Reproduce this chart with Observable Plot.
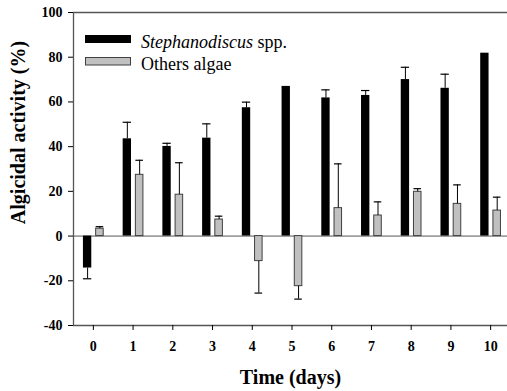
<!DOCTYPE html>
<html>
<head>
<meta charset="utf-8">
<script src="https://cdn.jsdelivr.net/npm/d3@7"></script>
<script src="https://cdn.jsdelivr.net/npm/@observablehq/plot@0.6"></script>
<style>
  html, body { margin: 0; padding: 0; background: white; }
  #chart { position: relative; width: 507px; height: 391px; }
</style>
</head>
<body>
<div id="chart"></div>
<script>
const days = [0, 1, 2, 3, 4, 5, 6, 7, 8, 9, 10];
const stephanodiscus = [-14.3, 43.5, 40.1, 43.8, 57.4, 66.6, 61.8, 62.9, 70.0, 66.1, 81.8];
const stephanodiscusErr = [4.8, 7.4, 1.4, 6.4, 2.5, 0.3, 3.6, 2.2, 5.5, 6.3, 0];
const othersAlgae = [3.3, 27.4, 18.5, 7.4, -11.2, -22.4, 12.5, 9.2, 19.8, 14.4, 11.4];
const othersAlgaeErr = [0.9, 6.5, 14.3, 1.5, 14.3, 5.8, 19.8, 6.1, 1.4, 8.5, 6.0];
const yTicks = [-40, -20, 0, 20, 40, 60, 80, 100];
const seriesNames = ["Stephanodiscus", " spp.", "Others algae"];

// offsets of the two bars within each day band (in day units)
const series = [
  {name: "steph", vals: stephanodiscus, errs: stephanodiscusErr, a: -0.25, b: -0.04, fill: "#000000", stroke: "none"},
  {name: "others", vals: othersAlgae, errs: othersAlgaeErr, a: 0.07, b: 0.26, fill: "#c0c0c0", stroke: "#404040"}
];
const rows = [];
for (const s of series) {
  days.forEach((d, i) => rows.push({day: d, v: s.vals[i], e: s.errs[i], a: s.a, b: s.b, fill: s.fill, stroke: s.stroke}));
}
const errRows = rows.filter(r => r.e > 0);
const tip = r => r.v + Math.sign(r.v) * r.e;

const font = "'Liberation Serif', 'Times New Roman', serif";
const axisColor = "#555555";

const plot = Plot.plot({
  width: 507,
  height: 391,
  marginTop: 12,
  marginBottom: 66,
  marginLeft: 73,
  marginRight: 0,
  style: {fontFamily: font, background: "white", color: "black"},
  x: {type: "linear", domain: [-0.5, 10.5], range: [73, 510]},
  y: {domain: [-40, 100]},
  marks: [
    Plot.ruleY([0], {stroke: axisColor, strokeWidth: 1}),
    Plot.rect(rows, {
      x1: r => r.day + r.a, x2: r => r.day + r.b,
      y1: 0, y2: "v",
      fill: "fill", stroke: "stroke", strokeWidth: 1
    }),
    Plot.ruleX(errRows, {
      x: r => r.day + (r.a + r.b) / 2,
      y1: "v", y2: tip, stroke: "black", strokeWidth: 1
    }),
    Plot.ruleY(errRows, {
      y: tip, x1: r => r.day + r.a, x2: r => r.day + r.b,
      stroke: "black", strokeWidth: 1.2
    }),
    Plot.ruleX([-0.5], {y1: -40, y2: 100, stroke: axisColor, strokeWidth: 1.3}),
    Plot.ruleY([-40, 100], {x1: -0.5, x2: 10.5, stroke: axisColor, strokeWidth: 1.3}),
    Plot.axisY({
      ticks: yTicks, tickSize: 5, tickPadding: 6, label: null,
      fontSize: 14, fontWeight: "bold", stroke: "black", tickFormat: d => String(d)
    }),
    Plot.axisX({
      ticks: days, tickSize: 5, tickPadding: 11, label: null,
      fontSize: 14, fontWeight: "bold", stroke: "black", tickFormat: d => String(d)
    }),
    Plot.text(["Algicidal activity (%)"], {
      frameAnchor: "top-left", dx: -55, dy: 120, rotate: -90,
      textAnchor: "middle", lineAnchor: "middle",
      fontSize: 20, fontWeight: "bold", fill: "black"
    }),
    Plot.text(["Time (days)"], {
      frameAnchor: "bottom", dy: 58, textAnchor: "middle", lineAnchor: "bottom",
      fontSize: 20, fontWeight: "bold", fill: "black"
    })
  ]
});

// legend
const svg = d3.select(plot);
const lg = svg.append("g").attr("font-family", font).attr("font-size", 18).attr("text-anchor", "start");
lg.append("rect").attr("x", 85).attr("y", 35).attr("width", 46).attr("height", 8).attr("fill", "#000");
lg.append("rect").attr("x", 85.5).attr("y", 57.5).attr("width", 45).attr("height", 7.5)
  .attr("fill", "#c0c0c0").attr("stroke", "#404040").attr("stroke-width", 1);
const t1 = lg.append("text").attr("x", 141).attr("y", 47.5).attr("fill", "black").attr("text-anchor", "start");
t1.append("tspan").attr("font-style", "italic").text(seriesNames[0]);
t1.append("tspan").text(seriesNames[1]);
lg.append("text").attr("x", 141).attr("y", 70).attr("fill", "black").attr("text-anchor", "start").text(seriesNames[2]);

document.getElementById("chart").appendChild(plot);
</script>
</body>
</html>
